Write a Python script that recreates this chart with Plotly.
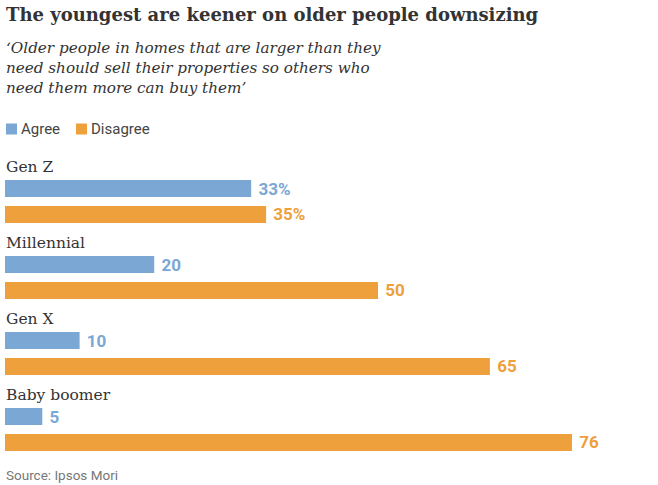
import plotly.graph_objects as go

categories = ["Gen Z", "Millennial", "Gen X", "Baby boomer"]
agree = [33, 20, 10, 5]
disagree = [35, 50, 65, 76]
agree_labels = ["33%", "20", "10", "5"]
disagree_labels = ["35%", "50", "65", "76"]

BLUE = "#7BA7D5"
ORANGE = "#EDA03B"

W, H = 658, 485
ML, MR, MT, MB = 5, 0, 150, 25
PW = W - ML - MR
PH = H - MT - MB

def px(x):
    return (x - ML) / PW

def py(y):
    return (H - MB - y) / PH

fig = go.Figure()
fig.add_trace(go.Bar(
    y=categories, x=agree, orientation="h", name="Agree",
    marker=dict(color=BLUE, line=dict(width=0)),
    offset=-0.283, width=0.224,
    text=[" " + t for t in agree_labels], textposition="outside",
    constraintext="none", cliponaxis=False,
    textfont=dict(color=BLUE, size=17, family="Roboto", weight="bold"),
    hoverinfo="skip",
))
fig.add_trace(go.Bar(
    y=categories, x=disagree, orientation="h", name="Disagree",
    marker=dict(color=ORANGE, line=dict(width=0)),
    offset=0.059, width=0.224,
    text=[" " + t for t in disagree_labels], textposition="outside",
    constraintext="none", cliponaxis=False,
    textfont=dict(color=ORANGE, size=17, family="Roboto", weight="bold"),
    hoverinfo="skip",
))

annotations = []
for c in categories:
    annotations.append(dict(
        x=0, y=c, xref="x", yref="y", xanchor="left", yanchor="middle",
        yshift=34.5, xshift=-1, showarrow=False, text=c,
        font=dict(family="DejaVu Serif", size=15.5, color="#333333"),
    ))

annotations.append(dict(
    x=px(4), y=py(14), xref="paper", yref="paper", xanchor="left", yanchor="middle",
    showarrow=False,
    text="<b>The youngest are keener on older people downsizing</b>",
    font=dict(family="DejaVu Serif", size=18, color="#333333"),
))
annotations.append(dict(
    x=px(4), y=py(68), xref="paper", yref="paper", xanchor="left", yanchor="middle",
    showarrow=False, align="left",
    text="<i>‘Older people in homes that are larger than they<br>need should sell their properties so others who<br>need them more can buy them’</i>",
    font=dict(family="DejaVu Serif", size=15.2, color="#333333"),
))

# legend: coloured squares + labels
legend_items = [("Agree", BLUE, 6), ("Disagree", ORANGE, 76)]
shapes = []
for name, col, lx in legend_items:
    shapes.append(dict(
        type="rect", xref="paper", yref="paper",
        xsizemode="pixel", ysizemode="pixel",
        xanchor=px(lx), yanchor=py(129),
        x0=0, x1=11, y0=-5.5, y1=5.5,
        fillcolor=col, line=dict(width=0), layer="above",
    ))
    annotations.append(dict(
        x=px(lx + 13), y=py(129), xref="paper", yref="paper",
        xanchor="left", yanchor="middle", showarrow=False, text=name,
        font=dict(family="Roboto", size=15, color="#444444"),
    ))

annotations.append(dict(
    x=px(4), y=py(475), xref="paper", yref="paper", xanchor="left", yanchor="middle",
    showarrow=False, text="Source: Ipsos Mori",
    font=dict(family="Roboto", size=13.5, color="#777777"),
))

fig.update_layout(
    width=W, height=H,
    margin=dict(l=ML, r=MR, t=MT, b=MB, pad=0),
    paper_bgcolor="white", plot_bgcolor="white",
    showlegend=False,
    xaxis=dict(range=[0, PW / 7.46], visible=False, fixedrange=True),
    yaxis=dict(type="category", categoryorder="array", categoryarray=categories,
               range=[(H - MB - 201.5) / 76, (MT - 201.5) / 76],
               visible=False, fixedrange=True),
    annotations=annotations,
    shapes=shapes,
)

fig.write_html("out.html", config={"displayModeBar": False})
